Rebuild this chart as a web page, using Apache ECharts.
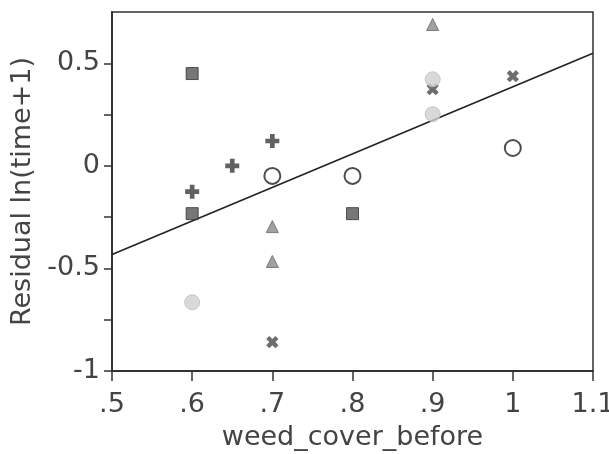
<!DOCTYPE html>
<html>
<head>
<meta charset="utf-8">
<script src="https://cdn.jsdelivr.net/npm/echarts@6/dist/echarts.min.js"></script>
<style>
html,body{margin:0;padding:0;background:#fff;overflow:hidden;}
#chart{width:609px;height:454px;}
</style>
</head>
<body>
<div id="chart"></div>
<script>
// x = weed_cover_before, y = Residual ln(time+1)
const squares   = [[0.6, 0.45], [0.6, -0.233], [0.8, -0.233]];
const pluses    = [[0.6, -0.126], [0.65, 0.0], [0.7, 0.121]];
const circles   = [[0.7, -0.049], [0.8, -0.049], [1.0, 0.087]];
const triangles = [[0.7, -0.296], [0.7, -0.466], [0.9, 0.689]];
const crosses   = [[0.7, -0.859], [1.0, 0.437], [0.9, 0.374]];
const lightDots = [[0.6, -0.665], [0.9, 0.422], [0.9, 0.252]];
// fitted regression line end points
const fitX = [0.5, 1.1];
const fitY = [-0.432, 0.549];

const xTicks = [0.5, 0.6, 0.7, 0.8, 0.9, 1.0, 1.1];
const yTickLabels = [-1, -0.5, 0, 0.5];
const yTickMarks = [-1, -0.75, -0.5, -0.25, 0, 0.25, 0.5];

const FONT = 'DejaVu Sans';
const TXT = '#444';
const plusPath = 'path://M4,0H8V4H12V8H8V12H4V8H0V4H4Z';

const chart = echarts.init(document.getElementById('chart'), null, {renderer: 'canvas'});
const scatter = (data, symbol, size, style, rotate) => ({
  type: 'scatter', data, symbol, symbolSize: size, symbolRotate: rotate || 0,
  itemStyle: style, z: 5, silent: true
});

chart.setOption({
  backgroundColor: '#fff',
  animation: false,
  grid: {left: 112, right: 16, top: 12, bottom: 83, show: true, borderColor: '#333', borderWidth: 1.5,
         containLabel: false, outerBoundsMode: 'none'},
  xAxis: {
    type: 'value', min: 0.5, max: 1.1, interval: 0.1,
    name: 'weed_cover_before', nameLocation: 'middle', nameGap: 53,
    nameTextStyle: {fontFamily: FONT, fontSize: 27, color: TXT},
    axisLine: {show: true, onZero: false, lineStyle: {color: '#333', width: 2}},
    axisTick: {show: true, length: 10, inside: false, customValues: xTicks, lineStyle: {color: '#333', width: 1.5}},
    axisLabel: {
      fontFamily: FONT, fontSize: 27, color: TXT, margin: 20, customValues: xTicks,
      formatter: v => { let s = String(Math.round(v * 10) / 10); return s.startsWith('0.') ? s.slice(1) : s; }
    },
    splitLine: {show: false}
  },
  yAxis: {
    type: 'value', min: -1, max: 0.75, interval: 0.5,
    name: 'Residual ln(time+1)', nameLocation: 'middle', nameGap: 64, nameRotate: 90,
    nameTextStyle: {fontFamily: FONT, fontSize: 27, color: TXT},
    axisLine: {show: true, onZero: false, lineStyle: {color: '#333', width: 2}},
    axisTick: {show: true, length: 8, inside: false, customValues: yTickMarks, lineStyle: {color: '#333', width: 1.5}},
    axisLabel: {fontFamily: FONT, fontSize: 27, color: TXT, margin: 12, customValues: yTickLabels,
      formatter: v => String(v)},
    splitLine: {show: false}
  },
  series: [
    {
      type: 'line', data: fitX.map((x, i) => [x, fitY[i]]), showSymbol: false, symbol: 'none',
      lineStyle: {color: '#222', width: 1.6}, silent: true, z: 3
    },
    scatter(squares, 'rect', 12, {color: '#555', borderColor: '#333', borderWidth: 1}),
    scatter(pluses, plusPath, 14, {color: '#3a3a3a'}),
    scatter(circles, 'circle', 16, {color: 'rgba(255,255,255,0)', borderColor: '#222', borderWidth: 2}),
    scatter(triangles, 'triangle', 12, {color: '#8a8a8a', borderColor: '#666', borderWidth: 1}),
    scatter(crosses, plusPath, 13, {color: '#4a4a4a'}, 45),
    scatter(lightDots, 'circle', 15, {color: '#cfcfcf', borderColor: '#bdbdbd', borderWidth: 1})
  ]
});
</script>
</body>
</html>
